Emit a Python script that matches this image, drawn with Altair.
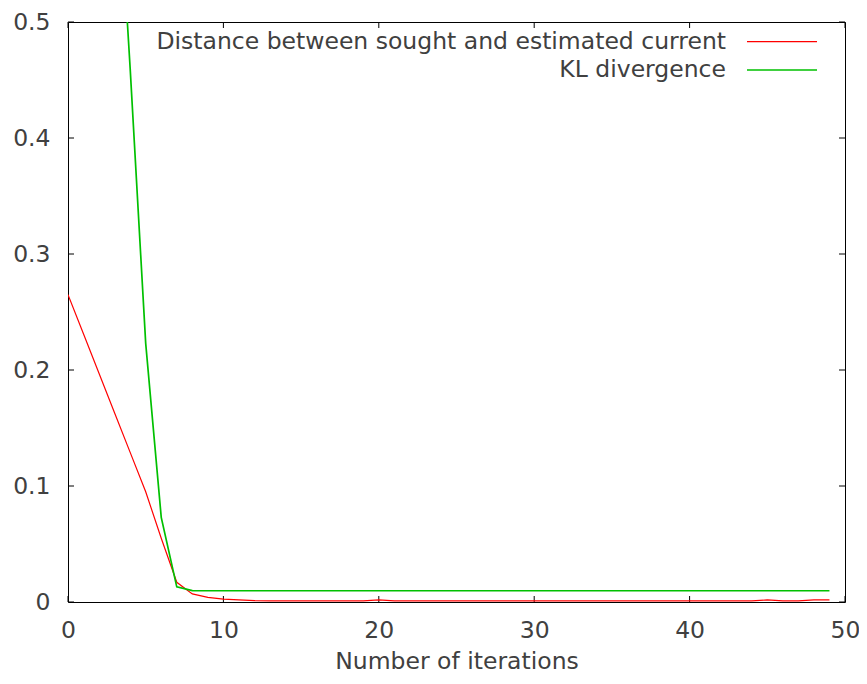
import altair as alt
import pandas as pd

iterations = list(range(50))
distance = [0.265, 0.231, 0.197, 0.163, 0.129, 0.095, 0.055, 0.017, 0.007, 0.004,
            0.0025, 0.0018, 0.0012, 0.0009, 0.0009, 0.0009, 0.0009, 0.0009, 0.0009, 0.0009,
            0.0018, 0.0009, 0.0009, 0.0009, 0.0009, 0.0009, 0.0009, 0.0009, 0.0009, 0.0009,
            0.0009, 0.0009, 0.0009, 0.0009, 0.0009, 0.0009, 0.0009, 0.0009, 0.0009, 0.0009,
            0.0009, 0.0009, 0.0009, 0.0009, 0.0009, 0.0018, 0.0009, 0.0009, 0.0018, 0.0018]
kl = [1.40, 1.10, 0.87, 0.68, 0.460, 0.223, 0.073, 0.013, 0.0098] + [0.0097] * 41
series_names = ["Distance between sought and estimated current", "KL divergence"]
series_colors = ["#ff0000", "#00c000"]
series_widths = [1.2, 1.7]
x_ticks = [0, 10, 20, 30, 40, 50]
y_ticks = [0, 0.1, 0.2, 0.3, 0.4, 0.5]

W, H = 777, 580
FONT = "DejaVu Sans"
FS = 23.5
TXT = "#404040"
TICK = 6

df = pd.DataFrame({
    "x": iterations * 2,
    "y": distance + kl,
    "series": [series_names[0]] * len(iterations) + [series_names[1]] * len(iterations),
})

xscale = alt.Scale(domain=[0, 50], nice=False, zero=False)
yscale = alt.Scale(domain=[0, 0.5], nice=False)

xaxis = alt.Axis(values=x_ticks, title="Number of iterations", ticks=False, domain=False,
                 grid=False, labelFontSize=FS, labelFont=FONT, labelColor=TXT,
                 labelPadding=16, titleFontSize=FS, titleFont=FONT, titleFontWeight="normal",
                 titleColor=TXT, titlePadding=8, format="d", labelFlush=False)
yaxis = alt.Axis(values=y_ticks, title=None, ticks=False, domain=False, grid=False,
                 labelFontSize=FS, labelFont=FONT, labelColor=TXT, labelPadding=18,
                 format="~g", labelFlush=False)

lines = alt.Chart(df).mark_line(clip=True).encode(
    x=alt.X("x:Q", scale=xscale, axis=xaxis),
    y=alt.Y("y:Q", scale=yscale, axis=yaxis),
    color=alt.Color("series:N", scale=alt.Scale(domain=series_names, range=series_colors), legend=None),
    strokeWidth=alt.StrokeWidth("series:N", scale=alt.Scale(domain=series_names, range=series_widths), legend=None),
)

xt = pd.DataFrame({"x": x_ticks})
yt = pd.DataFrame({"y": y_ticks})

xt_bottom = alt.Chart(xt).mark_rule(color="black", strokeWidth=1).encode(
    x=alt.X("x:Q", scale=xscale, axis=xaxis), y=alt.value(H), y2=alt.value(H - TICK))
xt_top = alt.Chart(xt).mark_rule(color="black", strokeWidth=1).encode(
    x=alt.X("x:Q", scale=xscale, axis=xaxis), y=alt.value(0), y2=alt.value(TICK))
yt_left = alt.Chart(yt).mark_rule(color="black", strokeWidth=1).encode(
    y=alt.Y("y:Q", scale=yscale, axis=yaxis), x=alt.value(0), x2=alt.value(TICK))
yt_right = alt.Chart(yt).mark_rule(color="black", strokeWidth=1).encode(
    y=alt.Y("y:Q", scale=yscale, axis=yaxis), x=alt.value(W), x2=alt.value(W - TICK))

legend_layers = []
row_y = [19.7, 48.0]
for name, col, sw, ry in zip(series_names, series_colors, series_widths, row_y):
    ldf = pd.DataFrame({"label": [name]})
    legend_layers.append(
        alt.Chart(ldf).mark_text(align="right", baseline="middle", font=FONT, fontSize=FS, color=TXT)
        .encode(x=alt.value(658), y=alt.value(ry), text="label:N"))
    legend_layers.append(
        alt.Chart(ldf).mark_rule(color=col, strokeWidth=sw)
        .encode(x=alt.value(679), x2=alt.value(749), y=alt.value(ry)))

chart = alt.layer(xt_bottom, xt_top, yt_left, yt_right, lines, *legend_layers).properties(
    width=W, height=H,
    autosize=alt.AutoSizeParams(type="none"),
    padding={"left": 60, "top": 14, "right": 14, "bottom": 74},
    background="white",
).configure_view(stroke="black", strokeWidth=1)

chart.save("out.html", embed_options={"renderer": "svg", "actions": False})
